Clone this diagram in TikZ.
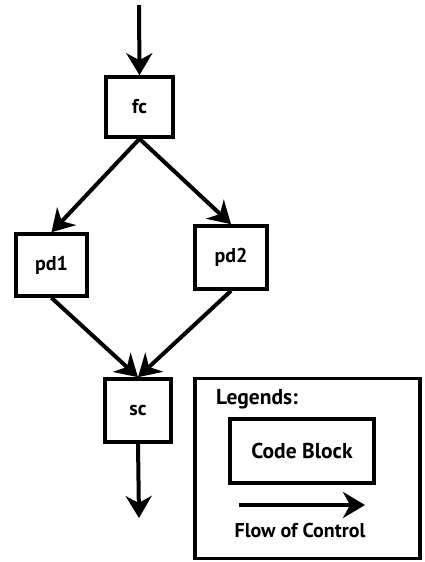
\documentclass[tikz,border=0pt]{standalone}
\usepackage{fontspec}
\setmainfont{PT Sans}
\usetikzlibrary{arrows.meta}
\begin{document}
\begin{tikzpicture}[x=1pt,y=-1pt,
  blk/.style={draw, line width=3.6pt, inner sep=0pt, font=\bfseries\fontsize{20}{24}\selectfont},
  flow/.style={line width=4pt, -{Stealth[length=22pt,width=26pt,inset=7pt]}},
  lbl/.style={inner sep=0pt, font=\bfseries\fontsize{20}{24}\selectfont},
  big/.style={font=\bfseries\fontsize{21.5}{25}\selectfont}]
\useasboundingbox (0,0) rectangle (424,562);

% code blocks
\node[blk, minimum width=67pt, minimum height=60pt] (fc)  at (139.5,107)   {fc};
\node[blk, minimum width=71pt, minimum height=62pt] (pd1) at (51.5,265)    {pd1};
\node[blk, minimum width=72pt, minimum height=63pt] (pd2) at (231,257.5)   {pd2};
\node[blk, minimum width=66pt, minimum height=63pt] (sc)  at (138,410.5)   {sc};

% entry and exit points
\coordinate (in)  at (139,5);
\coordinate (out) at (139,518);

% flow of control
\draw[flow] (in) -- (fc.north);
\draw[flow] (fc.south) -- (pd1.north);
\draw[flow] (fc.south) -- (pd2.north);
\draw[flow] (pd1.south) -- (sc.north);
\draw[flow] (pd2.south) -- (sc.north);
\draw[flow] (sc.south) -- (out);

% legend
\node[draw, line width=3.6pt, minimum width=225pt, minimum height=180pt, inner sep=0pt] (legend) at (307.5,468.5) {};
\node[lbl, big, anchor=west] (legtitle) at (216,399) {Legends:};
\node[blk, big, minimum width=144pt, minimum height=64pt] (cb) at (302,451) {Code Block};
\coordinate (la) at (239,505);
\coordinate (lb) at (365,505);
\draw[flow] (la) -- (lb);
\node[lbl] (fl) at (300,530) {Flow of Control};
\end{tikzpicture}
\end{document}
